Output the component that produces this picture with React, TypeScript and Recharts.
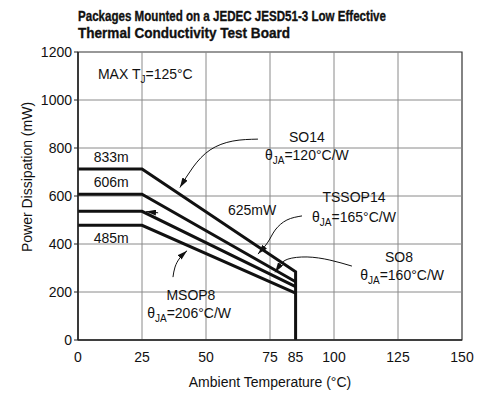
import React from 'react';
import { ComposedChart, Line, XAxis, YAxis, ReferenceLine, ReferenceArea, Scatter } from 'recharts';

// Axis ticks
const xTicks = [0, 25, 50, 75, 85, 100, 125, 150];
const yTicks = [0, 200, 400, 600, 800, 1000, 1200];
const gridX = [25, 50, 75, 100, 125];
const gridY = [200, 400, 600, 800, 1000];

// Derating curves (t = ambient °C, p = mW)
const so14 = [{ t: 0, p: 712 }, { t: 25, p: 712 }, { t: 85, p: 284 }, { t: 85, p: 0 }];
const tssop14 = [{ t: 0, p: 607 }, { t: 25, p: 607 }, { t: 85, p: 243 }];
const so8 = [{ t: 0, p: 536 }, { t: 25, p: 536 }, { t: 85, p: 222 }];
const msop8 = [{ t: 0, p: 478 }, { t: 25, p: 478 }, { t: 85, p: 195 }];

// Leader arrows (data coordinates)
const so14Leader = [{ t: 70.3, p: 837 }, { t: 60.5, p: 829 }, { t: 51.6, p: 792 }, { t: 45, p: 721 }, { t: 39.8, p: 635 }];
const tssopLeader = [{ t: 87.5, p: 517 }, { t: 81.6, p: 500 }, { t: 77, p: 458 }, { t: 74.2, p: 408 }, { t: 70.3, p: 358 }];
const so8Leader = [{ t: 107, p: 308 }, { t: 98.4, p: 333 }, { t: 89.5, p: 346 }, { t: 82, p: 337 }, { t: 78.9, p: 312 }, { t: 77, p: 282 }];
const msopLeader = [{ t: 37.1, p: 262 }, { t: 37.9, p: 304 }, { t: 39.8, p: 342 }, { t: 42.6, p: 372 }];
const w625Leader = [{ t: 31.3, p: 530 }, { t: 26.6, p: 535 }];

// Annotations
const noteText = ['833m', '606m', '485m', '625mW', 'SO14', 'θ_{JA}=120°C/W', 'TSSOP14', 'θ_{JA}=165°C/W', 'SO8', 'θ_{JA}=160°C/W', 'MSOP8', 'θ_{JA}=206°C/W'];
const noteT = [13, 13, 13, 68, 89.4, 89.4, 107.8, 107.8, 125.4, 126.6, 44.1, 43.4];
const noteP = [762, 658, 425, 542, 846, 771, 596, 512, 346, 271, 187.5, 112.5];
const maxText = ['MAX T_{J}=125°C'];
const maxT = [7.8];
const maxP = [1108];

const titleLines = ['Packages Mounted on a JEDEC JESD51-3 Low Effective', 'Thermal Conductivity Test Board'];
const xTitle = 'Ambient Temperature (°C)';
const yTitle = 'Power Dissipation (mW)';

const notes = noteText.map((text, i) => ({ t: noteT[i], p: noteP[i], text }));
const maxNotes = maxText.map((text, i) => ({ t: maxT[i], p: maxP[i], text }));

const FONT = '"Liberation Sans", Arial, Helvetica, sans-serif';
const INK = '#111';

function rich(text: string, x: number, y: number, anchor: 'start' | 'middle') {
  const parts = text.split(/(_\{[^}]*\})/).filter(Boolean);
  let shifted = false;
  const out = parts.map((p, i) => {
    if (p.startsWith('_{')) {
      shifted = true;
      return (
        <tspan key={i} dy={4} fontSize={10}>
          {p.slice(2, -1)}
        </tspan>
      );
    }
    const dy = shifted ? -4 : 0;
    shifted = false;
    return (
      <tspan key={i} dy={dy}>
        {p}
      </tspan>
    );
  });
  return (
    <text x={x} y={y + 5} textAnchor={anchor} fontSize={14} fontFamily={FONT} fill={INK}>
      {out}
    </text>
  );
}

const curveProps = {
  stroke: INK,
  strokeWidth: 3,
  dot: false,
  activeDot: false,
  isAnimationActive: false,
  type: 'linear' as const,
  dataKey: 'p',
};

const leaderProps = {
  stroke: INK,
  strokeWidth: 1,
  dot: false,
  activeDot: false,
  isAnimationActive: false,
  type: 'natural' as const,
  dataKey: 'p',
  markerEnd: 'url(#arrowHead)',
};

export default function App() {
  return (
    <div style={{ position: 'absolute', left: 0, top: 0, width: 477, height: 393, background: '#fff' }}>
      <svg width={0} height={0} style={{ position: 'absolute' }}>
        <defs>
          <marker
            id="arrowHead"
            viewBox="0 0 10 6"
            refX={10}
            refY={3}
            markerWidth={10}
            markerHeight={6}
            orient="auto"
            markerUnits="userSpaceOnUse"
          >
            <path d="M0,0 L10,3 L0,6 z" fill={INK} />
          </marker>
        </defs>
      </svg>
      <svg width={477} height={45} style={{ position: 'absolute', left: 0, top: 0 }}>
        <text x={78} y={20.5} fontSize={15} fontWeight="bold" fontFamily={FONT} fill={INK} stroke={INK} strokeWidth={0.35} textLength={308} lengthAdjust="spacingAndGlyphs">
          {titleLines[0]}
        </text>
        <text x={78} y={37.5} fontSize={15} fontWeight="bold" fontFamily={FONT} fill={INK} stroke={INK} strokeWidth={0.35} textLength={212} lengthAdjust="spacingAndGlyphs">
          {titleLines[1]}
        </text>
      </svg>
      <div style={{ position: 'absolute', left: 0, top: 0 }}>
        <ComposedChart width={477} height={393} margin={{ top: 52, right: 15, bottom: 0, left: 0 }}>
          <XAxis
            dataKey="t"
            type="number"
            domain={[0, 150]}
            ticks={xTicks}
            interval={0}
            allowDataOverflow
            tickLine={false}
            tickSize={6}
            tickMargin={6}
            height={53}
            axisLine={{ stroke: '#222', strokeWidth: 1.5 }}
            tick={{ fontSize: 14, fontFamily: FONT, fill: INK }}
            label={{ value: xTitle, position: 'insideBottom', offset: 6, fontSize: 14, fontFamily: FONT, fill: INK }}
          />
          <YAxis
            dataKey="p"
            type="number"
            domain={[0, 1200]}
            ticks={yTicks}
            interval={0}
            allowDataOverflow
            width={78}
            tickSize={4}
            tickMargin={2}
            tickLine={{ stroke: '#222' }}
            axisLine={{ stroke: '#222', strokeWidth: 1.5 }}
            tick={{ fontSize: 14, fontFamily: FONT, fill: INK }}
            label={{
              content: (props: any) => {
                const vb = props.viewBox || { x: 0, y: 52, width: 78, height: 288 };
                const cx = vb.x + 32;
                const cy = vb.y + 125;
                return (
                  <text
                    x={cx}
                    y={cy}
                    transform={`rotate(-90, ${cx}, ${cy})`}
                    textAnchor="middle"
                    fontSize={14}
                    fontFamily={FONT}
                    fill={INK}
                  >
                    {yTitle}
                  </text>
                );
              },
            }}
          />
          {gridX.map((v) => (
            <ReferenceLine key={'gx' + v} x={v} stroke="#8a8a8a" strokeWidth={1} />
          ))}
          {gridY.map((v) => (
            <ReferenceLine key={'gy' + v} y={v} stroke="#8a8a8a" strokeWidth={1} />
          ))}
          <ReferenceArea x1={0} x2={150} y1={0} y2={1200} fill="none" fillOpacity={0} stroke="#333" strokeWidth={1.2} />
          <Line data={so14} {...curveProps} />
          <Line data={tssop14} {...curveProps} />
          <Line data={so8} {...curveProps} />
          <Line data={msop8} {...curveProps} />
          <Line data={so14Leader} {...leaderProps} />
          <Line data={tssopLeader} {...leaderProps} />
          <Line data={so8Leader} {...leaderProps} />
          <Line data={msopLeader} {...leaderProps} />
          <Line data={w625Leader} {...leaderProps} type="linear" />
          <Scatter
            data={notes}
            dataKey="p"
            isAnimationActive={false}
            shape={(props: any) => rich(props.payload.text, props.cx, props.cy, 'middle')}
          />
          <Scatter
            data={maxNotes}
            dataKey="p"
            isAnimationActive={false}
            shape={(props: any) => rich(props.payload.text, props.cx, props.cy, 'start')}
          />
        </ComposedChart>
      </div>
    </div>
  );
}
